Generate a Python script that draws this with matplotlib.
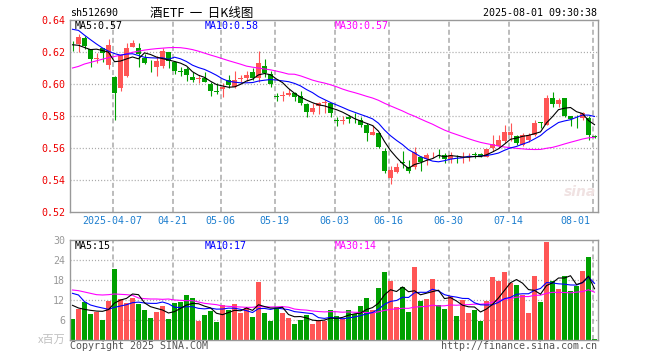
import matplotlib
matplotlib.use("Agg")
import matplotlib.pyplot as plt
import numpy as np

plt.rcParams['lines.scale_dashes'] = False

# ---------------- data ----------------
opens = [0.6240, 0.6248, 0.6286, 0.6217, 0.6155, 0.6223, 0.6120, 0.6046, 0.5973, 0.6050,
         0.6233, 0.6227, 0.6160, 0.6131, 0.6108, 0.6115, 0.6198, 0.6136, 0.6079, 0.6094,
         0.6046, 0.6033, 0.6035, 0.5998, 0.5954, 0.5969, 0.6025, 0.5983, 0.6033, 0.6040,
         0.6077, 0.6035, 0.6112, 0.6060, 0.5923, 0.5925, 0.5933, 0.5946, 0.5925, 0.5875,
         0.5827, 0.5863, 0.5881, 0.5879, 0.5773, 0.5769, 0.5792, 0.5781, 0.5775, 0.5744,
         0.5681, 0.5692, 0.5583, 0.5411, 0.5452, 0.5510, 0.5479, 0.5479, 0.5542, 0.5529,
         0.5561, 0.5562, 0.5556, 0.5529, 0.5537, 0.5538, 0.5548, 0.5558, 0.5563, 0.5546,
         0.5598, 0.5610, 0.5646, 0.5681, 0.5675, 0.5619, 0.5650, 0.5681, 0.5760, 0.5744,
         0.5911, 0.5875, 0.5911, 0.5800, 0.5783, 0.5785, 0.5785, 0.5673]
highs = [0.6269, 0.6311, 0.6300, 0.6219, 0.6196, 0.6225, 0.6281, 0.6050, 0.6182, 0.6254,
         0.6275, 0.6254, 0.6185, 0.6150, 0.6175, 0.6223, 0.6200, 0.6144, 0.6108, 0.6108,
         0.6073, 0.6056, 0.6073, 0.6010, 0.6004, 0.6004, 0.6056, 0.6081, 0.6056, 0.6081,
         0.6098, 0.6206, 0.6156, 0.6081, 0.5942, 0.5958, 0.5967, 0.5952, 0.5958, 0.5883,
         0.5879, 0.5890, 0.5900, 0.5883, 0.5796, 0.5800, 0.5806, 0.5817, 0.5792, 0.5754,
         0.5744, 0.5702, 0.5598, 0.5488, 0.5508, 0.5583, 0.5525, 0.5604, 0.5550, 0.5571,
         0.5577, 0.5592, 0.5567, 0.5577, 0.5556, 0.5577, 0.5571, 0.5577, 0.5571, 0.5592,
         0.5681, 0.5681, 0.5744, 0.5758, 0.5681, 0.5692, 0.5692, 0.5775, 0.5765, 0.5931,
         0.5952, 0.5911, 0.5911, 0.5800, 0.5806, 0.5827, 0.5800, 0.5681]
lows = [0.6206, 0.6202, 0.6219, 0.6108, 0.6130, 0.6136, 0.6094, 0.5775, 0.5955, 0.6045,
        0.6230, 0.6108, 0.6123, 0.6077, 0.6052, 0.6098, 0.6098, 0.6060, 0.6052, 0.6019,
        0.6010, 0.6004, 0.6010, 0.5927, 0.5935, 0.5921, 0.5973, 0.5973, 0.6014, 0.6019,
        0.6025, 0.6014, 0.6046, 0.5983, 0.5894, 0.5892, 0.5925, 0.5896, 0.5869, 0.5796,
        0.5813, 0.5813, 0.5821, 0.5792, 0.5740, 0.5750, 0.5754, 0.5758, 0.5733, 0.5646,
        0.5681, 0.5598, 0.5442, 0.5372, 0.5442, 0.5473, 0.5446, 0.5467, 0.5458, 0.5494,
        0.5535, 0.5535, 0.5508, 0.5504, 0.5508, 0.5508, 0.5521, 0.5535, 0.5542, 0.5542,
        0.5583, 0.5598, 0.5629, 0.5646, 0.5619, 0.5613, 0.5640, 0.5675, 0.5723, 0.5744,
        0.5858, 0.5854, 0.5794, 0.5738, 0.5725, 0.5775, 0.5650, 0.5665]
closes = [0.6236, 0.6296, 0.6239, 0.6158, 0.6160, 0.6192, 0.6244, 0.5942, 0.6180, 0.6225,
          0.6254, 0.6185, 0.6129, 0.6129, 0.6144, 0.6206, 0.6144, 0.6081, 0.6077, 0.6056,
          0.6025, 0.6035, 0.6014, 0.5956, 0.5952, 0.5983, 0.5994, 0.6025, 0.6035, 0.6056,
          0.6040, 0.6129, 0.6067, 0.5998, 0.5921, 0.5929, 0.5946, 0.5917, 0.5879, 0.5827,
          0.5848, 0.5879, 0.5883, 0.5817, 0.5771, 0.5771, 0.5780, 0.5780, 0.5744, 0.5696,
          0.5702, 0.5604, 0.5458, 0.5463, 0.5479, 0.5508, 0.5458, 0.5577, 0.5515, 0.5556,
          0.5563, 0.5560, 0.5529, 0.5556, 0.5535, 0.5540, 0.5550, 0.5556, 0.5550, 0.5592,
          0.5627, 0.5650, 0.5702, 0.5702, 0.5629, 0.5681, 0.5681, 0.5754, 0.5758, 0.5911,
          0.5875, 0.5900, 0.5800, 0.5780, 0.5780, 0.5817, 0.5681, 0.5671]
volumes = [6.4, 9.2, 11.5, 7.8, 8.5, 6.0, 11.8, 21.3, 12.3, 11.0,
           12.6, 10.8, 9.0, 6.6, 8.4, 10.2, 6.3, 11.1, 11.4, 13.5,
           12.6, 5.8, 7.5, 8.8, 5.4, 10.5, 9.0, 10.8, 8.1, 9.6,
           6.9, 17.5, 8.1, 5.8, 9.6, 8.1, 6.6, 4.8, 6.1, 7.5,
           4.8, 5.7, 5.8, 9.0, 7.2, 6.2, 9.0, 7.8, 10.2, 12.6,
           9.0, 15.6, 20.4, 17.8, 9.9, 15.9, 8.4, 21.9, 11.7, 12.3,
           18.3, 10.5, 9.3, 13.2, 7.2, 12.0, 8.1, 9.0, 5.7, 11.7,
           18.9, 17.8, 20.4, 17.1, 16.5, 13.5, 8.1, 19.2, 11.4, 29.4,
           17.7, 15.3, 19.2, 14.8, 16.2, 20.7, 24.9, 0.3]

# moving-average values at the left edge (window reaches before the visible range)
ma5_head = [0.6245, 0.6242, 0.6228, 0.6215]
ma10_head = [0.6342, 0.6335, 0.6305, 0.6277, 0.6250, 0.6225, 0.6205, 0.6190, 0.6180]
ma30_head = [0.6100, 0.6110, 0.6125, 0.6135, 0.6145, 0.6155, 0.6165, 0.6172, 0.6180, 0.6188,
             0.6198, 0.6205, 0.6212, 0.6217, 0.6221, 0.6224, 0.6227, 0.6228, 0.6227, 0.6222,
             0.6215, 0.6205, 0.6193, 0.6181, 0.6170, 0.6158, 0.6146, 0.6135, 0.6124]
vma5_head = [10.4, 9.6, 9.2, 8.9]
vma10_head = [14.0, 13.5, 11.5, 10.5, 10.0, 9.6, 9.2, 9.8, 10.2]
vma30_head = [15.0, 14.8, 14.4, 14.0, 13.6, 13.5, 13.6, 13.8, 13.7, 13.6,
              13.4, 12.6, 12.4, 12.3, 12.3, 12.2, 12.3, 12.0, 11.9, 11.8,
              11.8, 11.4, 11.0, 10.8, 10.6, 10.2, 10.1, 10.0, 9.9]

date_idx = [7, 17, 25, 34, 44, 53, 63, 73, 87]
date_labels = ["2025-04-07", "04-21", "05-06", "05-19", "06-03", "06-16", "06-30", "07-14", "08-01"]
price_ticks = [0.52, 0.54, 0.56, 0.58, 0.60, 0.62, 0.64]
vol_ticks = [6, 12, 18, 24, 30]


def moving_avg(values, n, head):
    out = list(head)
    for i in range(len(head), len(values)):
        out.append(float(np.mean(values[i - n + 1:i + 1])))
    return out


ma5 = moving_avg(closes, 5, ma5_head)
ma10 = moving_avg(closes, 10, ma10_head)
ma30 = moving_avg(closes, 30, ma30_head)
vma5 = moving_avg(volumes, 5, vma5_head)
vma10 = moving_avg(volumes, 10, vma10_head)
vma30 = moving_avg(volumes, 30, vma30_head)

# ---------------- style ----------------
RED = '#ff5555'
GREEN = '#00a000'
GRID = '#aaaaaa'
SPINE = '#999999'
MONO = 'DejaVu Sans Mono'
CJK = ['Noto Sans CJK SC', 'DejaVu Sans']
FS = 7.2

W, H = 660, 360
fig = plt.figure(figsize=(W / 100, H / 100), dpi=100)


def fx(px):
    return px / W


def fy(py):
    return 1 - py / H


ax1 = fig.add_axes([fx(70), fy(212), 527.5 / W, 192 / H])
ax2 = fig.add_axes([fx(70), fy(340), 527.5 / W, 100 / H])

n = len(closes)
x = np.arange(n)
xlim = (-2.5 / 6, 87.5)
bw = 5 / 6

colors = [RED if c >= o else GREEN for o, c in zip(opens, closes)]

for ax in (ax1, ax2):
    ax.set_xlim(*xlim)
    for s in ax.spines.values():
        s.set_color(SPINE)
        s.set_linewidth(1.0)
    ax.set_xticks([])
    ax.tick_params(axis='y', length=0, pad=3.5)
    for i in date_idx:
        ax.axvline(i - 0.3, color=GRID, lw=1.1, linestyle=(0, (3.6, 2.2)), zorder=0)

# ---- price panel ----
ax1.set_ylim(0.52, 0.64)
for p in price_ticks[1:-1]:
    ax1.axhline(p, color=GRID, lw=0.9, linestyle=(0, (0.8, 1.4)), zorder=0)
ax1.set_yticks(price_ticks)
ax1.set_yticklabels([f"{p:.2f}" for p in price_ticks], color='#ee0000',
                    fontsize=FS, family=MONO)

ax1.vlines(x, lows, highs, colors=colors, lw=0.8, zorder=2)
body_bottom = [min(o, c) for o, c in zip(opens, closes)]
body_h = [max(abs(c - o), 0.0004) for o, c in zip(opens, closes)]
ax1.bar(x, body_h, bottom=body_bottom, width=bw, color=colors, lw=0, zorder=3)

ax1.plot(x, ma30, color='#ff00ff', lw=0.8, zorder=4)
ax1.plot(x, ma10, color='#0000ff', lw=0.8, zorder=4)
ax1.plot(x, ma5, color='#000000', lw=0.8, zorder=5)

# watermark
fig.text(fx(580), fy(192), 'sina', fontsize=10, fontstyle='italic', fontweight='bold',
         color='#f0e2e2', ha='center', va='center', zorder=0)

# ---- volume panel ----
ax2.set_ylim(0, 30)
for v in vol_ticks[:-1]:
    ax2.axhline(v, color=GRID, lw=0.9, linestyle=(0, (0.8, 1.4)), zorder=0)
ax2.set_yticks(vol_ticks)
ax2.set_yticklabels([str(v) for v in vol_ticks], color='#999999', fontsize=FS, family=MONO)
ax2.bar(x, volumes, width=bw, color=colors, lw=0, zorder=2)
ax2.plot(x, vma30, color='#ff00ff', lw=0.8, zorder=4)
ax2.plot(x, vma10, color='#0000ff', lw=0.8, zorder=4)
ax2.plot(x, vma5, color='#000000', lw=0.8, zorder=5)

# ---- date labels ----
for i, lab in zip(date_idx, date_labels):
    px = 72.5 + 6 * i - 1.8
    ha = 'center'
    if i == date_idx[-1]:
        px, ha = 590, 'right'
    fig.text(fx(px), fy(221), lab, color='#1e7fcf', fontsize=FS, family=MONO,
             ha=ha, va='center')

# ---- titles / legends ----
fig.text(fx(70), fy(13), 'sh512690', fontsize=FS, family=MONO, ha='left', va='center')
fig.text(fx(201.5), fy(13), '酒ETF  一  日K线图', fontsize=9, family=CJK, ha='center', va='center')
fig.text(fx(597), fy(13), '2025-08-01 09:30:38', fontsize=FS, family=MONO, ha='right', va='center')

fig.text(fx(75), fy(26), f'MA5:{ma5[-1]:.2f}', fontsize=FS, family=MONO, color='black', va='center')
fig.text(fx(205), fy(26), f'MA10:{ma10[-1]:.2f}', fontsize=FS, family=MONO, color='#0000ff', va='center')
fig.text(fx(334.5), fy(26), f'MA30:{ma30[-1]:.2f}', fontsize=FS, family=MONO, color='#ff00ff', va='center')

fig.text(fx(75), fy(246), f'MA5:{vma5[-1]:.0f}', fontsize=FS, family=MONO, color='black', va='center')
fig.text(fx(205), fy(246), f'MA10:{vma10[-1]:.0f}', fontsize=FS, family=MONO, color='#0000ff', va='center')
fig.text(fx(334.5), fy(246), f'MA30:{vma30[-1]:.0f}', fontsize=FS, family=MONO, color='#ff00ff', va='center')

fig.text(fx(66), fy(340), 'x百万', fontsize=8, family=CJK, color='#c0c0c0', ha='right', va='center')
fig.text(fx(70), fy(346), 'Copyright 2025 SINA.COM', fontsize=FS, family=MONO, color='#555555',
         ha='left', va='center')
fig.text(fx(597), fy(346), 'http://finance.sina.com.cn', fontsize=FS, family=MONO, color='#555555',
         ha='right', va='center')

fig.savefig('out.png', dpi=100)
